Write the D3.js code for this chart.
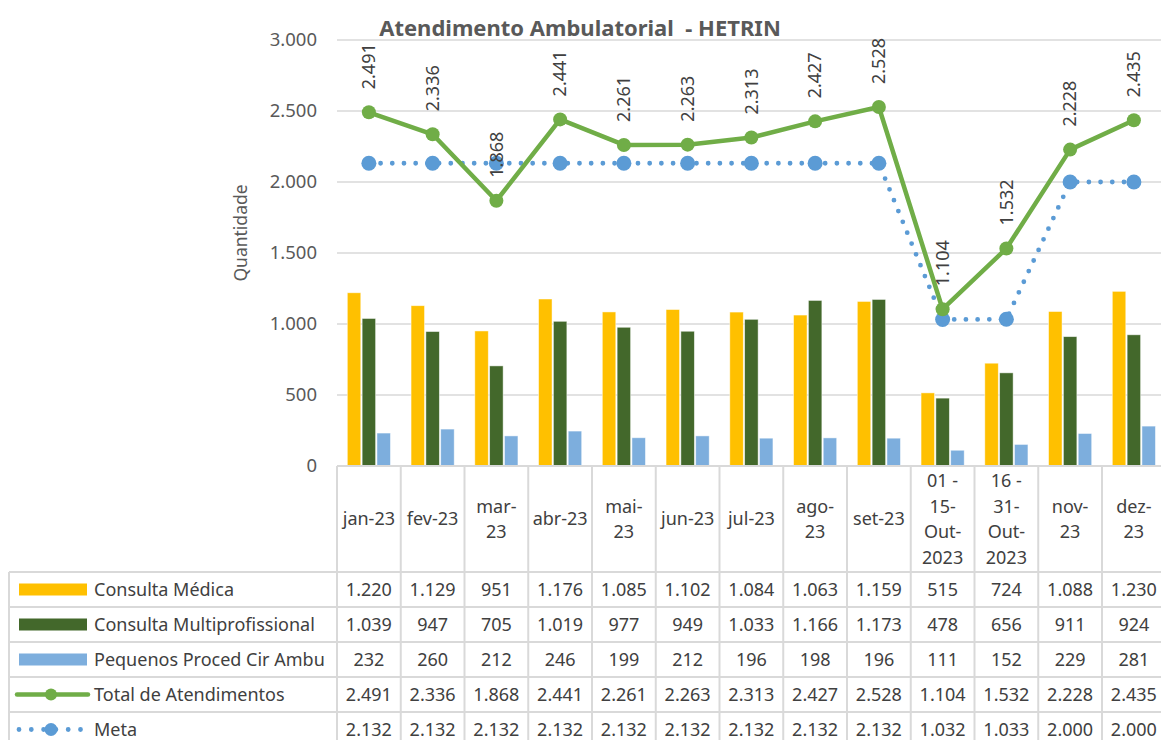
<!DOCTYPE html>
<html>
<head>
<meta charset="utf-8">
<script src="https://cdn.jsdelivr.net/npm/d3@7"></script>
<style>
  body { margin: 0; background: #fff; }
  svg { display: block; font-family: "Noto Sans", sans-serif; }
</style>
</head>
<body>
<div class="canvas"></div>
<script>
// categories and header lines (as wrapped in the table)
const categories = ['jan-23', 'fev-23', 'mar-23', 'abr-23', 'mai-23', 'jun-23', 'jul-23',
  'ago-23', 'set-23', '01 - 15-Out-2023', '16 - 31-Out-2023', 'nov-23', 'dez-23'];
const headerLines = [['jan-23'], ['fev-23'], ['mar-', '23'], ['abr-23'], ['mai-', '23'], ['jun-23'],
  ['jul-23'], ['ago-', '23'], ['set-23'], ['01 -', '15-', 'Out-', '2023'], ['16 -', '31-', 'Out-', '2023'],
  ['nov-', '23'], ['dez-', '23']];

// series values
const consultaMedica = [1220, 1129, 951, 1176, 1085, 1102, 1084, 1063, 1159, 515, 724, 1088, 1230];
const consultaMulti = [1039, 947, 705, 1019, 977, 949, 1033, 1166, 1173, 478, 656, 911, 924];
const pequenosProced = [232, 260, 212, 246, 199, 212, 196, 198, 196, 111, 152, 229, 281];
const totalAtend = [2491, 2336, 1868, 2441, 2261, 2263, 2313, 2427, 2528, 1104, 1532, 2228, 2435];
const meta = [2132, 2132, 2132, 2132, 2132, 2132, 2132, 2132, 2132, 1032, 1033, 2000, 2000];

const seriesNames = ['Consulta Médica', 'Consulta Multiprofissional', 'Pequenos Proced Cir Ambu',
  'Total de Atendimentos', 'Meta'];
const yTicks = [0, 500, 1000, 1500, 2000, 2500, 3000];

const width = 1161, height = 740;
const plotLeft = 337, colW = 63.75;
const plotTop = 40, plotBottom = 466;
const rowTops = [572, 607, 642, 677, 712, 747];
const tableLeft = 9;
const textColor = '#404040';
const gridColor = '#d9d9d9';
const fontSize = '18px';

const locale = d3.formatLocale({ decimal: ',', thousands: '.', grouping: [3], currency: ['R$', ''] });
const fmt = locale.format(',d');

const svg = d3.select('.canvas')
    .append('svg')
    .attr('width', width)
    .attr('height', height);

// scales
const x = d3.scaleBand()
    .domain(categories)
    .range([plotLeft, plotLeft + colW * categories.length]);
const y = d3.scaleLinear().domain([0, 3000]).range([plotBottom, plotTop]);

const barSeries = [
  { name: seriesNames[0], values: consultaMedica, color: '#FFC000' },
  { name: seriesNames[1], values: consultaMulti, color: '#43682B' },
  { name: seriesNames[2], values: pequenosProced, color: '#7DAEDD' }
];
const xInner = d3.scaleBand()
    .domain(barSeries.map(s => s.name))
    .range([10.3, colW - 10.3])
    .paddingInner(0.09);

// gridlines
svg.append('g')
  .selectAll('line')
  .data(yTicks)
  .enter().append('line')
    .attr('x1', plotLeft)
    .attr('x2', width + 10)
    .attr('y1', d => y(d))
    .attr('y2', d => y(d))
    .attr('stroke', gridColor)
    .attr('stroke-width', 1.5);

// y axis labels
const yAxis = d3.axisLeft(y)
    .tickValues(yTicks)
    .tickFormat(fmt)
    .tickSize(0)
    .tickPadding(20);
const yAxisGroup = svg.append('g')
    .attr('transform', `translate(${plotLeft},0)`)
    .call(yAxis);
yAxisGroup.select('.domain').remove();
yAxisGroup.selectAll('text')
    .attr('fill', '#595959')
    .style('font-size', '18.5px')
    .style('font-family', '"Noto Sans", sans-serif');

// axis title
svg.append('text')
    .attr('transform', 'translate(247,233) rotate(-90)')
    .attr('text-anchor', 'middle')
    .attr('fill', '#595959')
    .style('font-size', '17.5px')
    .text('Quantidade');

// chart title
svg.append('text')
    .attr('x', 580)
    .attr('y', 36)
    .attr('text-anchor', 'middle')
    .attr('fill', '#595959')
    .style('font-size', '22px')
    .style('font-weight', 'bold')
    .style('white-space', 'pre')
    .text('Atendimento Ambulatorial  - HETRIN');

// bars
barSeries.forEach(s => {
  svg.append('g')
    .selectAll('rect')
    .data(s.values)
    .enter().append('rect')
      .attr('x', (d, i) => x(categories[i]) + xInner(s.name))
      .attr('y', d => y(d))
      .attr('width', xInner.bandwidth())
      .attr('height', d => y(0) - y(d))
      .attr('fill', s.color)
      .attr('stroke', '#fff')
      .attr('stroke-opacity', 0.6)
      .attr('stroke-width', 0.8);
});

const cx = i => x(categories[i]) + x.bandwidth() / 2;

// meta line (dotted)
const metaLine = d3.line()
    .x((d, i) => cx(i))
    .y(d => y(d));
svg.append('path')
    .datum(meta)
    .attr('fill', 'none')
    .attr('stroke', '#5B9BD5')
    .attr('stroke-width', 4.8)
    .attr('stroke-linecap', 'round')
    .attr('stroke-linejoin', 'round')
    .attr('stroke-dasharray', '0 11.7')
    .attr('d', metaLine);
svg.append('g')
  .selectAll('circle')
  .data(meta)
  .enter().append('circle')
    .attr('cx', (d, i) => cx(i))
    .attr('cy', d => y(d))
    .attr('r', 7.5)
    .attr('fill', '#5B9BD5');

// total line
const totalLine = d3.line()
    .x((d, i) => cx(i))
    .y(d => y(d));
svg.append('path')
    .datum(totalAtend)
    .attr('fill', 'none')
    .attr('stroke', '#70AD47')
    .attr('stroke-width', 4.5)
    .attr('stroke-linejoin', 'round')
    .attr('d', totalLine);
svg.append('g')
  .selectAll('circle')
  .data(totalAtend)
  .enter().append('circle')
    .attr('cx', (d, i) => cx(i))
    .attr('cy', d => y(d))
    .attr('r', 7)
    .attr('fill', '#70AD47');

// data labels for total, rotated
svg.append('g')
  .selectAll('text')
  .data(totalAtend)
  .enter().append('text')
    .attr('transform', (d, i) => `translate(${cx(i)},${y(d) - 23}) rotate(-90)`)
    .attr('dy', '0.35em')
    .attr('fill', textColor)
    .style('font-size', fontSize)
    .text(d => fmt(d));

// data table
const table = svg.append('g');
const xEnd = plotLeft + colW * categories.length;

// horizontal lines
table.append('line')
    .attr('x1', plotLeft).attr('x2', xEnd)
    .attr('y1', plotBottom).attr('y2', plotBottom)
    .attr('stroke', gridColor).attr('stroke-width', 2);
table.selectAll('.hrow')
  .data(rowTops)
  .enter().append('line')
    .attr('class', 'hrow')
    .attr('x1', tableLeft).attr('x2', xEnd)
    .attr('y1', d => d).attr('y2', d => d)
    .attr('stroke', gridColor).attr('stroke-width', 2);

// vertical lines
const colEdges = d3.range(categories.length + 1).map(i => plotLeft + i * colW);
table.selectAll('.vcol')
  .data(colEdges)
  .enter().append('line')
    .attr('class', 'vcol')
    .attr('x1', d => d).attr('x2', d => d)
    .attr('y1', plotBottom).attr('y2', height + 10)
    .attr('stroke', gridColor).attr('stroke-width', 2);
table.append('line')
    .attr('x1', tableLeft).attr('x2', tableLeft)
    .attr('y1', rowTops[0]).attr('y2', height + 10)
    .attr('stroke', gridColor).attr('stroke-width', 2);

// header labels
const headerMid = (plotBottom + rowTops[0]) / 2;
headerLines.forEach((lines, i) => {
  const t = table.append('text')
      .attr('text-anchor', 'middle')
      .attr('fill', textColor)
      .style('font-size', fontSize);
  const lh = 25.5;
  const start = headerMid - (lines.length - 1) * lh / 2;
  lines.forEach((ln, j) => {
    t.append('tspan')
      .attr('x', cx(i))
      .attr('y', start + j * lh)
      .attr('dy', '0.35em')
      .text(ln);
  });
});

// table rows
const rowValues = [consultaMedica, consultaMulti, pequenosProced, totalAtend, meta];
rowValues.forEach((vals, r) => {
  const mid = (rowTops[r] + rowTops[r + 1]) / 2;
  table.append('g')
    .selectAll('text')
    .data(vals)
    .enter().append('text')
      .attr('x', (d, i) => cx(i))
      .attr('y', mid)
      .attr('dy', '0.35em')
      .attr('text-anchor', 'middle')
      .attr('fill', textColor)
      .style('font-size', fontSize)
      .text(d => fmt(d));

  table.append('text')
      .attr('x', 94)
      .attr('y', mid)
      .attr('dy', '0.35em')
      .attr('fill', textColor)
      .style('font-size', fontSize)
      .text(seriesNames[r]);
});

// legend keys
barSeries.forEach((s, r) => {
  const mid = (rowTops[r] + rowTops[r + 1]) / 2;
  table.append('rect')
      .attr('x', 19).attr('y', mid - 6)
      .attr('width', 68).attr('height', 12)
      .attr('fill', s.color);
});
const totMid = (rowTops[3] + rowTops[4]) / 2;
table.append('line')
    .attr('x1', 17).attr('x2', 88)
    .attr('y1', totMid).attr('y2', totMid)
    .attr('stroke', '#70AD47').attr('stroke-width', 4.5)
    .attr('stroke-linecap', 'round');
table.append('circle')
    .attr('cx', 51).attr('cy', totMid).attr('r', 6)
    .attr('fill', '#70AD47');
const metaMid = (rowTops[4] + rowTops[5]) / 2;
table.append('line')
    .attr('x1', 19).attr('x2', 81)
    .attr('y1', metaMid).attr('y2', metaMid)
    .attr('stroke', '#5B9BD5').attr('stroke-width', 4.8)
    .attr('stroke-linecap', 'round')
    .attr('stroke-dasharray', '0 12.3');
table.append('circle')
    .attr('cx', 51).attr('cy', metaMid).attr('r', 6.5)
    .attr('fill', '#5B9BD5');
</script>
</body>
</html>
